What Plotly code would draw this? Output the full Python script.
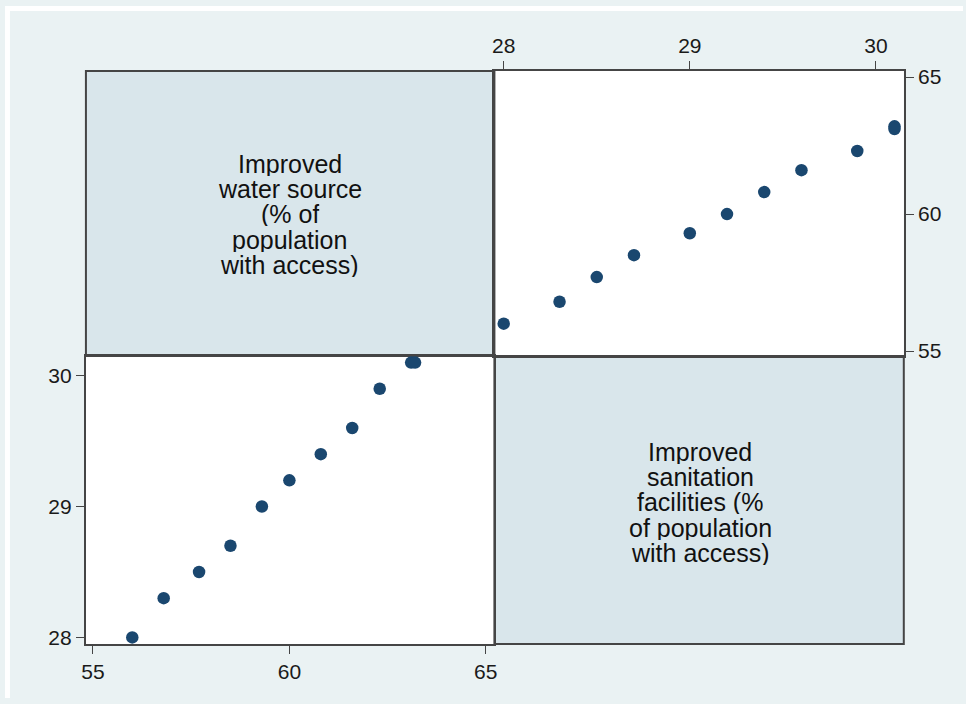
import plotly.graph_objects as go

# Access indicators, % of population (one observation per year)
water = [56.0, 56.8, 57.7, 58.5, 59.3, 60.0, 60.8, 61.6, 62.3, 63.1, 63.2]
sanitation = [28.0, 28.3, 28.5, 28.7, 29.0, 29.2, 29.4, 29.6, 29.9, 30.1, 30.1]

water_label = ["Improved", "water source", "(% of", "population", "with access)"]
sanitation_label = ["Improved", "sanitation", "facilities (%", "of population", "with access)"]

water_ticks = [55, 60, 65]
sanitation_ticks = [28, 29, 30]

W, H = 966, 704
OUTER_BG = "#EAF2F3"
DIAG_BG = "#D9E6EB"
FRAME = "#454545"
MARKER = "#1A476F"
FONT = "Liberation Sans, Arial, sans-serif"

# panel edges in pixels
left, mid_x, right = 81.6, 493.5, 906.3
top, mid_y, bottom = 66.1, 356.1, 649.0

def px(x):
    return x / W

def py(y):
    return 1 - y / H

water_range = [54.82, 65.22]
san_range = [27.95, 30.15]

fig = go.Figure()

# lower-left: sanitation vs water
fig.add_trace(go.Scatter(x=water, y=sanitation, mode="markers", xaxis="x", yaxis="y",
                         marker=dict(color=MARKER, size=12.5), hoverinfo="skip"))
# upper-right: water vs sanitation
fig.add_trace(go.Scatter(x=sanitation, y=water, mode="markers", xaxis="x2", yaxis="y2",
                         marker=dict(color=MARKER, size=12.5), hoverinfo="skip"))

axis_common = dict(showline=True, mirror=True, linecolor=FRAME, linewidth=2,
                   ticks="outside", ticklen=8, tickwidth=1.3, tickcolor=FRAME,
                   showgrid=False, zeroline=False,
                   tickfont=dict(family=FONT, size=21, color="#1a1a1a"))

shapes = [
    # thin white margin along the top and left edges
    dict(type="rect", xref="paper", yref="paper", x0=0, x1=1, y0=py(5), y1=1,
         fillcolor="white", line=dict(width=0), layer="below"),
    dict(type="rect", xref="paper", yref="paper", x0=0, x1=px(5), y0=0, y1=1,
         fillcolor="white", line=dict(width=0), layer="below"),
    # diagonal panels
    dict(type="rect", xref="paper", yref="paper", x0=px(left), x1=px(mid_x), y0=py(mid_y), y1=py(top),
         fillcolor=DIAG_BG, line=dict(color=FRAME, width=2), layer="below"),
    dict(type="rect", xref="paper", yref="paper", x0=px(mid_x), x1=px(right), y0=py(bottom), y1=py(mid_y),
         fillcolor=DIAG_BG, line=dict(color=FRAME, width=2), layer="below"),
]

annotations = []
for i, line in enumerate(water_label):
    annotations.append(dict(x=px(287), y=py(160.7 + 25.7 * i), xref="paper", yref="paper",
                            text=line, showarrow=False, xanchor="center", yanchor="middle",
                            height=24, valign="middle",
                            font=dict(family=FONT, size=25, color="#111")))
for i, line in enumerate(sanitation_label):
    annotations.append(dict(x=px(701), y=py(453.7 + 25.7 * i), xref="paper", yref="paper",
                            text=line, showarrow=False, xanchor="center", yanchor="middle",
                            height=24, valign="middle",
                            font=dict(family=FONT, size=25, color="#111")))

fig.update_layout(
    width=W, height=H,
    margin=dict(l=0, r=0, t=0, b=0),
    paper_bgcolor=OUTER_BG,
    plot_bgcolor="white",
    showlegend=False,
    shapes=shapes,
    annotations=annotations,
    xaxis=dict(domain=[px(left), px(mid_x)], anchor="y", side="bottom", range=water_range,
               tickvals=water_ticks, **axis_common),
    yaxis=dict(domain=[py(bottom), py(mid_y)], anchor="x", side="left", range=san_range,
               tickvals=sanitation_ticks, **axis_common),
    xaxis2=dict(domain=[px(mid_x), px(right)], anchor="y2", side="top", range=san_range,
                tickvals=sanitation_ticks, **axis_common),
    yaxis2=dict(domain=[py(mid_y), py(top)], anchor="x2", side="right", range=water_range,
                tickvals=water_ticks, **axis_common),
)

fig.write_html("out.html")
